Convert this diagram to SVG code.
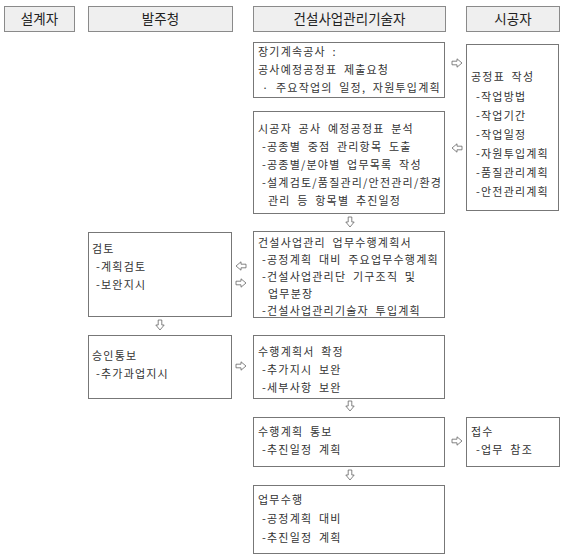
<svg xmlns="http://www.w3.org/2000/svg" xmlns:xlink="http://www.w3.org/1999/xlink" width="565" height="560" viewBox="0 0 565 560">
<style>
.hd rect{fill:#efefef;stroke:#8a8a8a;stroke-width:1}
.hd text{font-family:"Noto Sans CJK KR","Noto Sans",sans-serif;font-size:13.5px;fill:#222;text-anchor:middle}
.bx rect{fill:#fff;stroke:#777;stroke-width:1}
.bx text{font-family:"Noto Sans CJK KR","Noto Sans",sans-serif;font-size:11px;fill:#333;letter-spacing:1.2px;word-spacing:3px}
.ar{fill:#fff;stroke:#666;stroke-width:0.8}
</style>
<defs>
<path id="arR" d="M-5,-1.8H0V-4.2L5,0L0,4.2V1.8H-5Z"/>
</defs>
<rect width="565" height="560" fill="#fff"/>
<g id="h-designer" class="hd"><rect x="4.5" y="6.5" width="70" height="25"/><text x="39.5" y="24">설계자</text></g>
<g id="h-client" class="hd"><rect x="88.5" y="6.5" width="144" height="25"/><text x="160.5" y="24">발주청</text></g>
<g id="h-cm" class="hd"><rect x="253.5" y="6.5" width="192" height="25"/><text x="349.5" y="24">건설사업관리기술자</text></g>
<g id="h-contractor" class="hd"><rect x="466.5" y="6.5" width="93" height="25"/><text x="513" y="24">시공자</text></g>

<g id="n-request" class="bx"><rect x="253.5" y="42.5" width="191" height="55"/>
<text x="258" y="56">장기계속공사 :</text>
<text x="258" y="74">공사예정공정표 제출요청</text>
<text x="262" y="92">· 주요작업의 일정, 자원투입계획</text></g>

<g id="n-schedule" class="bx"><rect x="466.5" y="44.5" width="92" height="166"/>
<text x="471" y="81">공정표 작성</text>
<text x="476" y="101">-작업방법</text>
<text x="476" y="120">-작업기간</text>
<text x="476" y="139">-작업일정</text>
<text x="476" y="158">-자원투입계획</text>
<text x="476" y="177">-품질관리계획</text>
<text x="476" y="196">-안전관리계획</text></g>

<g id="n-analysis" class="bx"><rect x="253.5" y="111.5" width="191" height="102"/>
<text x="258" y="133">시공자 공사 예정공정표 분석</text>
<text x="262" y="151">-공종별 중점 관리항목 도출</text>
<text x="262" y="169">-공종별/분야별 업무목록 작성</text>
<text x="262" y="187">-설계검토/품질관리/안전관리/환경</text>
<text x="268" y="205">관리 등 항목별 추진일정</text></g>

<g id="n-review" class="bx"><rect x="88.5" y="232.5" width="143" height="84"/>
<text x="92" y="253">검토</text>
<text x="96" y="271">-계획검토</text>
<text x="96" y="289">-보완지시</text></g>

<g id="n-plan" class="bx"><rect x="253.5" y="231.5" width="191" height="86"/>
<text x="258" y="247">건설사업관리 업무수행계획서</text>
<text x="262" y="264">-공정계획 대비 주요업무수행계획</text>
<text x="262" y="281">-건설사업관리단 기구조직 및</text>
<text x="268" y="298">업무분장</text>
<text x="262" y="315">-건설사업관리기술자 투입계획</text></g>

<g id="n-approval" class="bx"><rect x="88.5" y="335.5" width="143" height="63"/>
<text x="92" y="360">승인통보</text>
<text x="96" y="378">-추가과업지시</text></g>

<g id="n-confirm" class="bx"><rect x="253.5" y="335.5" width="191" height="63"/>
<text x="258" y="356">수행계획서 확정</text>
<text x="262" y="374">-추가지시 보완</text>
<text x="262" y="392">-세부사항 보완</text></g>

<g id="n-notify" class="bx"><rect x="253.5" y="417.5" width="191" height="49"/>
<text x="258" y="436">수행계획 통보</text>
<text x="262" y="454">-추진일정 계획</text></g>

<g id="n-receive" class="bx"><rect x="466.5" y="417.5" width="93" height="49"/>
<text x="471" y="436">접수</text>
<text x="476" y="454">-업무 참조</text></g>

<g id="n-execute" class="bx"><rect x="253.5" y="485.5" width="191" height="68"/>
<text x="258" y="504">업무수행</text>
<text x="262" y="523">-공정계획 대비</text>
<text x="262" y="542">-추진일정 계획</text></g>

<g id="connectors" class="ar">
<use xlink:href="#arR" transform="translate(457,63)"/>
<use xlink:href="#arR" transform="translate(457,148) rotate(180)"/>
<use xlink:href="#arR" transform="translate(350,222) rotate(90)"/>
<use xlink:href="#arR" transform="translate(241,266) rotate(180)"/>
<use xlink:href="#arR" transform="translate(241,283)"/>
<use xlink:href="#arR" transform="translate(160,325) rotate(90)"/>
<use xlink:href="#arR" transform="translate(241,366)"/>
<use xlink:href="#arR" transform="translate(350,406) rotate(90)"/>
<use xlink:href="#arR" transform="translate(457,441)"/>
<use xlink:href="#arR" transform="translate(350,475) rotate(90)"/>
</g>
</svg>
